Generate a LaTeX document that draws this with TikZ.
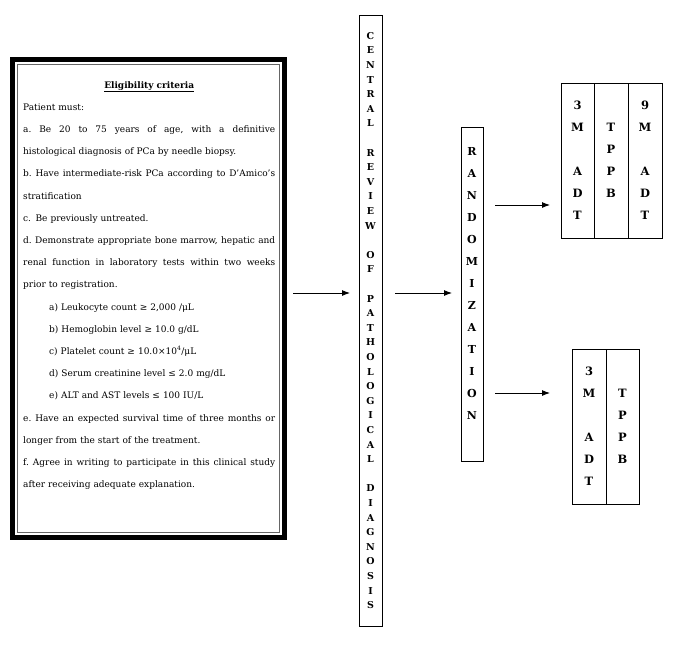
\documentclass[tikz,border=0pt]{standalone}
\usepackage{fontspec}
\setmainfont{DejaVu Serif}
\usetikzlibrary{positioning,arrows.meta}
\def\jl#1{\leavevmode\hbox to 252pt{\frenchspacing\spaceskip=0.3em plus 1fil\relax #1}}
\def\sub#1{\hspace*{26pt}#1}
\def\gap{\vphantom{M}}

\begin{document}
\begin{tikzpicture}[x=1pt,y=-1pt,
    vbox/.style={draw, line width=0.8pt, inner sep=0pt, align=center},
    arr/.style={-{Latex[length=8pt,width=6pt]}, line width=0.9pt}]
    %%%%% START %%%%%
    \useasboundingbox (0,0) rectangle (685,646);

    % eligibility criteria
    \node[draw, line width=5pt, outer sep=0pt, minimum width=272pt, minimum height=478pt] (crit) at (148.5,298.5) {};
    \draw[line width=0.8pt, color=black!60] ([shift={(5,5)}]crit.north west) rectangle ([shift={(-5,-5)}]crit.south east);
    \node[anchor=north west, inner sep=0pt, text width=252pt, align=left, font=\fontsize{9}{22.2}\selectfont] (crittext) at (23,81) {%
        \makebox[252pt]{\bfseries\underline{Eligibility criteria}}\\
        Patient must:\\
        \jl{a. Be 20 to 75 years of age, with a definitive}\\
        histological diagnosis of PCa by needle biopsy.\\
        \jl{b. Have intermediate-risk PCa according to D'Amico's}\\
        stratification\\
        c. Be previously untreated.\\
        \jl{d. Demonstrate appropriate bone marrow, hepatic and}\\
        \jl{renal function in laboratory tests within two weeks}\\
        prior to registration.\\
        \sub{a) Leukocyte count ≥ 2,000 /μL}\\
        \sub{b) Hemoglobin level ≥ 10.0 g/dL}\\
        \sub{c) Platelet count ≥ 10.0×10\textsuperscript{4}/μL}\\
        \sub{d) Serum creatinine level ≤ 2.0 mg/dL}\\
        \sub{e) ALT and AST levels ≤ 100 IU/L}\\
        \jl{e. Have an expected survival time of three months or}\\
        longer from the start of the treatment.\\
        \jl{f. Agree in writing to participate in this clinical study}\\
        after receiving adequate explanation.};

    % central review and randomization
    \node[vbox, minimum width=23pt, minimum height=611pt, font=\bfseries\fontsize{9.5}{14.6}\selectfont] (review) at (370.5,320.5)
        {C\\E\\N\\T\\R\\A\\L\\\gap\\R\\E\\V\\I\\E\\W\\\gap\\O\\F\\\gap\\P\\A\\T\\H\\O\\L\\O\\G\\I\\C\\A\\L\\\gap\\D\\I\\A\\G\\N\\O\\S\\I\\S};
    \node[vbox, minimum width=22pt, minimum height=334pt, font=\bfseries\fontsize{11}{22}\selectfont] (rand) at (472,294)
        {R\\A\\N\\D\\O\\M\\I\\Z\\A\\T\\I\\O\\N\\\gap};

    % arms
    \node[vbox, minimum width=33pt, minimum height=155pt, font=\bfseries\fontsize{11.5}{22}\selectfont] (adtA) at (577.5,160.5) {3\\M\\\gap\\A\\D\\T};
    \node[vbox, minimum width=34pt, minimum height=155pt, font=\bfseries\fontsize{11.5}{22}\selectfont, right=-0.8pt of adtA] (tppbA) {\gap\\T\\P\\P\\B\\\gap};
    \node[vbox, minimum width=34pt, minimum height=155pt, font=\bfseries\fontsize{11.5}{22}\selectfont, right=-0.8pt of tppbA] (adtB) {9\\M\\\gap\\A\\D\\T};

    \node[vbox, minimum width=34pt, minimum height=155pt, font=\bfseries\fontsize{11.5}{22}\selectfont] (adtC) at (589,426.5) {3\\M\\\gap\\A\\D\\T};
    \node[vbox, minimum width=33pt, minimum height=155pt, font=\bfseries\fontsize{11.5}{22}\selectfont, right=-0.8pt of adtC] (tppbB) {\gap\\T\\P\\P\\B\\\gap};

    % arrows
    \coordinate (rowA) at (0,293);
    \coordinate (rowB) at (0,205);
    \coordinate (rowC) at (0,393);
    \draw[arr, shorten <=8.5pt, shorten >=8.6pt] (crit.east |- rowA) -- (review.west |- rowA);
    \draw[arr, shorten <=12.6pt, shorten >=8.6pt] (review.east |- rowA) -- (rand.west |- rowA);
    \draw[arr, shorten <=11.6pt, shorten >=10.6pt] (rand.east |- rowB) -- (adtA.west |- rowB);
    \draw[arr, shorten <=11.6pt, shorten >=21.6pt] (rand.east |- rowC) -- (adtC.west |- rowC);

    %%%%% END %%%%%
\end{tikzpicture}
\end{document}
